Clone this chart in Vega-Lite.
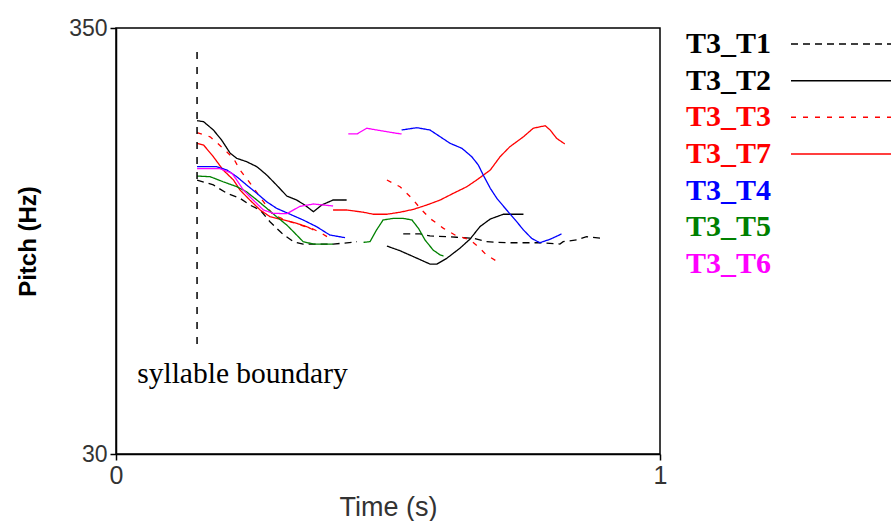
{
  "$schema": "https://vega.github.io/schema/vega-lite/v6.json",
  "background": "white",
  "padding": {"left": 15, "top": 16, "right": 0, "bottom": 0},
  "config": {"view": {"stroke": null}, "concat": {"spacing": 18}},
  "datasets": {
    "pitch": [
      {"s":"T3_T1","g":"T3_T1a","t":0.149,"hz":235.8},{"s":"T3_T1","g":"T3_T1a","t":0.179,"hz":232.1},{"s":"T3_T1","g":"T3_T1a","t":0.204,"hz":225.8},{"s":"T3_T1","g":"T3_T1a","t":0.228,"hz":222.1},{"s":"T3_T1","g":"T3_T1a","t":0.246,"hz":217.0},{"s":"T3_T1","g":"T3_T1a","t":0.265,"hz":213.3},{"s":"T3_T1","g":"T3_T1a","t":0.283,"hz":204.5},{"s":"T3_T1","g":"T3_T1a","t":0.305,"hz":195.8},{"s":"T3_T1","g":"T3_T1a","t":0.326,"hz":189.5},{"s":"T3_T1","g":"T3_T1a","t":0.344,"hz":187.7},{"s":"T3_T1","g":"T3_T1a","t":0.399,"hz":187.7},{"s":"T3_T1","g":"T3_T1a","t":0.436,"hz":189.0},{"s":"T3_T1","g":"T3_T1a","t":0.443,"hz":189.5},
      {"s":"T3_T1","g":"T3_T1b","t":0.528,"hz":195.3},{"s":"T3_T1","g":"T3_T1b","t":0.559,"hz":195.3},{"s":"T3_T1","g":"T3_T1b","t":0.577,"hz":193.8},{"s":"T3_T1","g":"T3_T1b","t":0.608,"hz":193.2},{"s":"T3_T1","g":"T3_T1b","t":0.626,"hz":192.8},{"s":"T3_T1","g":"T3_T1b","t":0.657,"hz":192.0},{"s":"T3_T1","g":"T3_T1b","t":0.681,"hz":189.5},{"s":"T3_T1","g":"T3_T1b","t":0.718,"hz":188.7},{"s":"T3_T1","g":"T3_T1b","t":0.779,"hz":188.7},{"s":"T3_T1","g":"T3_T1b","t":0.816,"hz":187.7},{"s":"T3_T1","g":"T3_T1b","t":0.822,"hz":189.5},{"s":"T3_T1","g":"T3_T1b","t":0.847,"hz":190.8},{"s":"T3_T1","g":"T3_T1b","t":0.865,"hz":193.2},{"s":"T3_T1","g":"T3_T1b","t":0.895,"hz":192.0},

      {"s":"T3_T2","g":"T3_T2a","t":0.149,"hz":280.4},{"s":"T3_T2","g":"T3_T2a","t":0.161,"hz":279.6},{"s":"T3_T2","g":"T3_T2a","t":0.179,"hz":273.4},{"s":"T3_T2","g":"T3_T2a","t":0.194,"hz":265.9},{"s":"T3_T2","g":"T3_T2a","t":0.210,"hz":255.9},{"s":"T3_T2","g":"T3_T2a","t":0.222,"hz":252.1},{"s":"T3_T2","g":"T3_T2a","t":0.240,"hz":249.6},{"s":"T3_T2","g":"T3_T2a","t":0.259,"hz":245.8},{"s":"T3_T2","g":"T3_T2a","t":0.277,"hz":239.6},{"s":"T3_T2","g":"T3_T2a","t":0.295,"hz":232.1},{"s":"T3_T2","g":"T3_T2a","t":0.314,"hz":223.8},{"s":"T3_T2","g":"T3_T2a","t":0.332,"hz":220.8},{"s":"T3_T2","g":"T3_T2a","t":0.347,"hz":217.0},{"s":"T3_T2","g":"T3_T2a","t":0.363,"hz":212.0},{"s":"T3_T2","g":"T3_T2a","t":0.378,"hz":217.0},{"s":"T3_T2","g":"T3_T2a","t":0.399,"hz":220.8},{"s":"T3_T2","g":"T3_T2a","t":0.424,"hz":220.8},
      {"s":"T3_T2","g":"T3_T2b","t":0.498,"hz":186.2},{"s":"T3_T2","g":"T3_T2b","t":0.522,"hz":182.7},{"s":"T3_T2","g":"T3_T2b","t":0.547,"hz":178.2},{"s":"T3_T2","g":"T3_T2b","t":0.577,"hz":172.7},{"s":"T3_T2","g":"T3_T2b","t":0.590,"hz":172.7},{"s":"T3_T2","g":"T3_T2b","t":0.608,"hz":177.0},{"s":"T3_T2","g":"T3_T2b","t":0.632,"hz":184.5},{"s":"T3_T2","g":"T3_T2b","t":0.651,"hz":191.5},{"s":"T3_T2","g":"T3_T2b","t":0.669,"hz":200.8},{"s":"T3_T2","g":"T3_T2b","t":0.688,"hz":206.5},{"s":"T3_T2","g":"T3_T2b","t":0.712,"hz":210.1},{"s":"T3_T2","g":"T3_T2b","t":0.749,"hz":210.1},

      {"s":"T3_T3","g":"T3_T3a","t":0.149,"hz":271.4},{"s":"T3_T3","g":"T3_T3a","t":0.173,"hz":268.3},{"s":"T3_T3","g":"T3_T3a","t":0.197,"hz":259.6},{"s":"T3_T3","g":"T3_T3a","t":0.216,"hz":252.1},{"s":"T3_T3","g":"T3_T3a","t":0.228,"hz":243.3},{"s":"T3_T3","g":"T3_T3a","t":0.249,"hz":232.1},{"s":"T3_T3","g":"T3_T3a","t":0.271,"hz":219.5},{"s":"T3_T3","g":"T3_T3a","t":0.289,"hz":209.5},{"s":"T3_T3","g":"T3_T3a","t":0.320,"hz":204.5},{"s":"T3_T3","g":"T3_T3a","t":0.338,"hz":202.0},{"s":"T3_T3","g":"T3_T3a","t":0.360,"hz":199.5},{"s":"T3_T3","g":"T3_T3a","t":0.378,"hz":195.8},{"s":"T3_T3","g":"T3_T3a","t":0.393,"hz":192.0},
      {"s":"T3_T3","g":"T3_T3b","t":0.498,"hz":235.8},{"s":"T3_T3","g":"T3_T3b","t":0.522,"hz":230.8},{"s":"T3_T3","g":"T3_T3b","t":0.544,"hz":222.1},{"s":"T3_T3","g":"T3_T3b","t":0.559,"hz":214.6},{"s":"T3_T3","g":"T3_T3b","t":0.577,"hz":207.0},{"s":"T3_T3","g":"T3_T3b","t":0.602,"hz":199.5},{"s":"T3_T3","g":"T3_T3b","t":0.623,"hz":194.5},{"s":"T3_T3","g":"T3_T3b","t":0.651,"hz":190.8},{"s":"T3_T3","g":"T3_T3b","t":0.666,"hz":185.7},{"s":"T3_T3","g":"T3_T3b","t":0.681,"hz":179.5},{"s":"T3_T3","g":"T3_T3b","t":0.706,"hz":173.3},

      {"s":"T3_T7","g":"T3_T7a","t":0.149,"hz":263.4},{"s":"T3_T7","g":"T3_T7a","t":0.161,"hz":262.1},{"s":"T3_T7","g":"T3_T7a","t":0.179,"hz":253.3},{"s":"T3_T7","g":"T3_T7a","t":0.197,"hz":243.3},{"s":"T3_T7","g":"T3_T7a","t":0.216,"hz":235.8},{"s":"T3_T7","g":"T3_T7a","t":0.228,"hz":228.3},{"s":"T3_T7","g":"T3_T7a","t":0.246,"hz":220.8},{"s":"T3_T7","g":"T3_T7a","t":0.265,"hz":213.3},{"s":"T3_T7","g":"T3_T7a","t":0.283,"hz":208.3},{"s":"T3_T7","g":"T3_T7a","t":0.308,"hz":205.8},{"s":"T3_T7","g":"T3_T7a","t":0.332,"hz":203.3},{"s":"T3_T7","g":"T3_T7a","t":0.351,"hz":200.7},{"s":"T3_T7","g":"T3_T7a","t":0.363,"hz":198.3},
      {"s":"T3_T7","g":"T3_T7b","t":0.399,"hz":213.3},{"s":"T3_T7","g":"T3_T7b","t":0.424,"hz":213.3},{"s":"T3_T7","g":"T3_T7b","t":0.455,"hz":211.6},{"s":"T3_T7","g":"T3_T7b","t":0.473,"hz":210.1},{"s":"T3_T7","g":"T3_T7b","t":0.498,"hz":210.1},{"s":"T3_T7","g":"T3_T7b","t":0.522,"hz":211.6},{"s":"T3_T7","g":"T3_T7b","t":0.547,"hz":213.8},{"s":"T3_T7","g":"T3_T7b","t":0.571,"hz":217.0},{"s":"T3_T7","g":"T3_T7b","t":0.596,"hz":220.8},{"s":"T3_T7","g":"T3_T7b","t":0.620,"hz":225.8},{"s":"T3_T7","g":"T3_T7b","t":0.645,"hz":230.8},{"s":"T3_T7","g":"T3_T7b","t":0.663,"hz":235.8},{"s":"T3_T7","g":"T3_T7b","t":0.688,"hz":243.3},{"s":"T3_T7","g":"T3_T7b","t":0.706,"hz":253.3},{"s":"T3_T7","g":"T3_T7b","t":0.724,"hz":260.8},{"s":"T3_T7","g":"T3_T7b","t":0.749,"hz":268.3},{"s":"T3_T7","g":"T3_T7b","t":0.767,"hz":274.7},{"s":"T3_T7","g":"T3_T7b","t":0.789,"hz":276.6},{"s":"T3_T7","g":"T3_T7b","t":0.798,"hz":273.4},{"s":"T3_T7","g":"T3_T7b","t":0.810,"hz":267.1},{"s":"T3_T7","g":"T3_T7b","t":0.825,"hz":262.9},

      {"s":"T3_T4","g":"T3_T4a","t":0.149,"hz":245.8},{"s":"T3_T4","g":"T3_T4a","t":0.185,"hz":245.8},{"s":"T3_T4","g":"T3_T4a","t":0.204,"hz":243.3},{"s":"T3_T4","g":"T3_T4a","t":0.222,"hz":238.3},{"s":"T3_T4","g":"T3_T4a","t":0.240,"hz":232.1},{"s":"T3_T4","g":"T3_T4a","t":0.259,"hz":225.8},{"s":"T3_T4","g":"T3_T4a","t":0.277,"hz":219.5},{"s":"T3_T4","g":"T3_T4a","t":0.295,"hz":214.6},{"s":"T3_T4","g":"T3_T4a","t":0.320,"hz":210.1},{"s":"T3_T4","g":"T3_T4a","t":0.344,"hz":205.8},{"s":"T3_T4","g":"T3_T4a","t":0.369,"hz":200.7},{"s":"T3_T4","g":"T3_T4a","t":0.393,"hz":194.5},{"s":"T3_T4","g":"T3_T4a","t":0.421,"hz":192.5},
      {"s":"T3_T4","g":"T3_T4b","t":0.525,"hz":273.4},{"s":"T3_T4","g":"T3_T4b","t":0.553,"hz":275.1},{"s":"T3_T4","g":"T3_T4b","t":0.577,"hz":273.4},{"s":"T3_T4","g":"T3_T4b","t":0.596,"hz":268.3},{"s":"T3_T4","g":"T3_T4b","t":0.614,"hz":263.4},{"s":"T3_T4","g":"T3_T4b","t":0.636,"hz":259.6},{"s":"T3_T4","g":"T3_T4b","t":0.654,"hz":253.3},{"s":"T3_T4","g":"T3_T4b","t":0.666,"hz":247.1},{"s":"T3_T4","g":"T3_T4b","t":0.675,"hz":239.6},{"s":"T3_T4","g":"T3_T4b","t":0.688,"hz":229.6},{"s":"T3_T4","g":"T3_T4b","t":0.700,"hz":222.1},{"s":"T3_T4","g":"T3_T4b","t":0.718,"hz":213.3},{"s":"T3_T4","g":"T3_T4b","t":0.734,"hz":205.8},{"s":"T3_T4","g":"T3_T4b","t":0.749,"hz":198.3},{"s":"T3_T4","g":"T3_T4b","t":0.764,"hz":192.0},{"s":"T3_T4","g":"T3_T4b","t":0.779,"hz":188.7},{"s":"T3_T4","g":"T3_T4b","t":0.798,"hz":191.3},{"s":"T3_T4","g":"T3_T4b","t":0.819,"hz":195.3},

      {"s":"T3_T5","g":"T3_T5a","t":0.149,"hz":238.8},{"s":"T3_T5","g":"T3_T5a","t":0.173,"hz":238.3},{"s":"T3_T5","g":"T3_T5a","t":0.197,"hz":234.5},{"s":"T3_T5","g":"T3_T5a","t":0.222,"hz":230.8},{"s":"T3_T5","g":"T3_T5a","t":0.240,"hz":227.0},{"s":"T3_T5","g":"T3_T5a","t":0.259,"hz":220.8},{"s":"T3_T5","g":"T3_T5a","t":0.277,"hz":214.6},{"s":"T3_T5","g":"T3_T5a","t":0.295,"hz":208.3},{"s":"T3_T5","g":"T3_T5a","t":0.314,"hz":202.0},{"s":"T3_T5","g":"T3_T5a","t":0.329,"hz":195.8},{"s":"T3_T5","g":"T3_T5a","t":0.344,"hz":189.5},{"s":"T3_T5","g":"T3_T5a","t":0.363,"hz":187.7},{"s":"T3_T5","g":"T3_T5a","t":0.399,"hz":187.7},
      {"s":"T3_T5","g":"T3_T5b","t":0.455,"hz":189.0},{"s":"T3_T5","g":"T3_T5b","t":0.467,"hz":189.5},{"s":"T3_T5","g":"T3_T5b","t":0.479,"hz":198.3},{"s":"T3_T5","g":"T3_T5b","t":0.491,"hz":205.8},{"s":"T3_T5","g":"T3_T5b","t":0.510,"hz":207.0},{"s":"T3_T5","g":"T3_T5b","t":0.528,"hz":207.0},{"s":"T3_T5","g":"T3_T5b","t":0.544,"hz":205.8},{"s":"T3_T5","g":"T3_T5b","t":0.556,"hz":199.5},{"s":"T3_T5","g":"T3_T5b","t":0.568,"hz":190.8},{"s":"T3_T5","g":"T3_T5b","t":0.583,"hz":183.2},{"s":"T3_T5","g":"T3_T5b","t":0.596,"hz":179.5},{"s":"T3_T5","g":"T3_T5b","t":0.602,"hz":178.7},

      {"s":"T3_T6","g":"T3_T6a","t":0.149,"hz":244.3},{"s":"T3_T6","g":"T3_T6a","t":0.191,"hz":244.3},{"s":"T3_T6","g":"T3_T6a","t":0.213,"hz":240.9},{"s":"T3_T6","g":"T3_T6a","t":0.222,"hz":235.8},{"s":"T3_T6","g":"T3_T6a","t":0.234,"hz":228.3},{"s":"T3_T6","g":"T3_T6a","t":0.252,"hz":220.8},{"s":"T3_T6","g":"T3_T6a","t":0.271,"hz":213.3},{"s":"T3_T6","g":"T3_T6a","t":0.289,"hz":210.8},{"s":"T3_T6","g":"T3_T6a","t":0.314,"hz":210.5},{"s":"T3_T6","g":"T3_T6a","t":0.338,"hz":216.0},{"s":"T3_T6","g":"T3_T6a","t":0.363,"hz":217.8},{"s":"T3_T6","g":"T3_T6a","t":0.399,"hz":216.3},
      {"s":"T3_T6","g":"T3_T6b","t":0.427,"hz":270.4},{"s":"T3_T6","g":"T3_T6b","t":0.443,"hz":270.4},{"s":"T3_T6","g":"T3_T6b","t":0.461,"hz":274.7},{"s":"T3_T6","g":"T3_T6b","t":0.479,"hz":273.4},{"s":"T3_T6","g":"T3_T6b","t":0.498,"hz":272.1},{"s":"T3_T6","g":"T3_T6b","t":0.516,"hz":270.9},{"s":"T3_T6","g":"T3_T6b","t":0.525,"hz":270.4}
    ],
    "series": [
      {"s":"T3_T1"},{"s":"T3_T2"},{"s":"T3_T3"},{"s":"T3_T7"},{"s":"T3_T4"},{"s":"T3_T5"},{"s":"T3_T6"}
    ]
  },
  "hconcat": [
    {
      "width": 544,
      "height": 426,
      "view": {"stroke": "black", "strokeWidth": 1.5},
      "layer": [
        {
          "data": {"name": "pitch"},
          "mark": {"type": "line", "strokeWidth": 1.3, "clip": true},
          "encoding": {
            "x": {
              "field": "t", "type": "quantitative", "title": "Time (s)",
              "scale": {"domain": [0, 1], "nice": false, "zero": false},
              "axis": {"values": [0, 1], "format": "d", "grid": false, "tickSize": 6, "tickColor": "black", "tickWidth": 1.5,
                       "domainColor": "black", "domainWidth": 1.5, "labelFont": "Liberation Sans", "labelFontSize": 25,
                       "labelColor": "#333", "labelPadding": 3, "labelFlush": false, "labelOverlap": false,
                       "titleFont": "Liberation Sans", "titleFontSize": 27, "titleFontWeight": "normal",
                       "titleColor": "#333", "titlePadding": 6}
            },
            "y": {
              "field": "hz", "type": "quantitative", "title": "Pitch (Hz)",
              "scale": {"domain": [30, 350], "nice": false, "zero": false},
              "axis": {"values": [30, 350], "format": "d", "grid": false, "tickSize": 6, "tickColor": "black", "tickWidth": 1.5,
                       "domainColor": "black", "domainWidth": 1.5, "labelFont": "Liberation Sans", "labelFontSize": 23,
                       "labelColor": "#333", "labelPadding": 3, "labelFlush": false, "labelOverlap": false,
                       "titleFont": "Liberation Sans", "titleFontSize": 24, "titleFontWeight": "bold",
                       "titleColor": "black", "titlePadding": 28}
            },
            "color": {
              "field": "s", "type": "nominal", "legend": null,
              "scale": {"domain": ["T3_T1","T3_T2","T3_T3","T3_T7","T3_T4","T3_T5","T3_T6"],
                        "range": ["#000000","#000000","#ff0000","#ff0000","#0000ff","#008000","#ff00ff"]}
            },
            "strokeDash": {
              "field": "s", "type": "nominal", "legend": null,
              "scale": {"domain": ["T3_T1","T3_T2","T3_T3","T3_T7","T3_T4","T3_T5","T3_T6"],
                        "range": [[7,5],[1,0],[5,7],[1,0],[1,0],[1,0],[1,0]]}
            },
            "detail": {"field": "g", "type": "nominal"}
          }
        },
        {
          "data": {"values": [{"t": 0.149, "top": 332, "bottom": 112}]},
          "mark": {"type": "rule", "color": "black", "strokeWidth": 1.5, "strokeDash": [7, 8]},
          "encoding": {
            "x": {"field": "t", "type": "quantitative"},
            "y": {"field": "top", "type": "quantitative"},
            "y2": {"field": "bottom"}
          }
        },
        {
          "data": {"values": [{"t": 0.039, "hz": 83.3, "note": "syllable boundary"}]},
          "mark": {"type": "text", "align": "left", "baseline": "alphabetic", "font": "Liberation Serif",
                   "fontSize": 29.5, "color": "black"},
          "encoding": {
            "x": {"field": "t", "type": "quantitative"},
            "y": {"field": "hz", "type": "quantitative"},
            "text": {"field": "note"}
          }
        }
      ]
    },
    {
      "width": 210,
      "height": 252,
      "data": {"name": "series"},
      "encoding": {
        "y": {"field": "s", "type": "nominal", "axis": null,
              "scale": {"type": "point", "padding": 0.436,
                        "domain": ["T3_T1","T3_T2","T3_T3","T3_T7","T3_T4","T3_T5","T3_T6"]}},
        "color": {
          "field": "s", "type": "nominal", "legend": null,
          "scale": {"domain": ["T3_T1","T3_T2","T3_T3","T3_T7","T3_T4","T3_T5","T3_T6"],
                    "range": ["#000000","#000000","#ff0000","#ff0000","#0000ff","#008000","#ff00ff"]}
        }
      },
      "layer": [
        {
          "mark": {"type": "text", "align": "left", "baseline": "middle", "font": "Liberation Serif",
                   "fontWeight": "bold", "fontSize": 30},
          "encoding": {"x": {"value": 0}, "text": {"field": "s"}}
        },
        {
          "transform": [{"filter": "indexof(['T3_T1','T3_T2','T3_T3','T3_T7'], datum.s) >= 0"}],
          "mark": {"type": "rule", "strokeWidth": 1.5},
          "encoding": {
            "x": {"value": 105},
            "x2": {"value": 215},
            "strokeDash": {
              "field": "s", "type": "nominal", "legend": null,
              "scale": {"domain": ["T3_T1","T3_T2","T3_T3","T3_T7"],
                        "range": [[6,5],[1,0],[6,6],[1,0]]}
            }
          }
        }
      ]
    }
  ]
}
